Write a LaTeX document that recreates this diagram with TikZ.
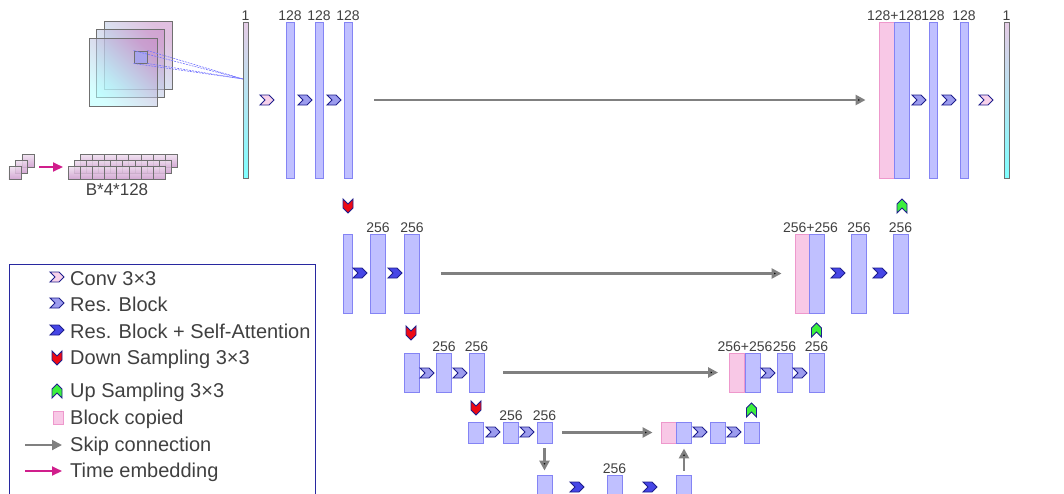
\documentclass[tikz,border=0pt]{standalone}
\usepackage{fontspec}
\setmainfont{Liberation Sans}
\usetikzlibrary{positioning,shapes.symbols,arrows.meta}

\definecolor{barfill}{HTML}{C0C0FF}
\definecolor{barline}{HTML}{8484F4}
\definecolor{copyfill}{HTML}{F8C8E6}
\definecolor{copyline}{HTML}{EE98CC}
\definecolor{navy}{HTML}{1E1E8C}
\definecolor{convfill}{HTML}{F8D2EA}
\definecolor{resfill}{HTML}{9C9CEE}
\definecolor{attfill}{HTML}{4646E6}
\definecolor{dnfill}{HTML}{EE0A14}
\definecolor{upfill}{HTML}{3CF03C}
\definecolor{skipgray}{HTML}{808080}
\definecolor{timemag}{HTML}{D01E8C}
\definecolor{txtgray}{HTML}{404040}
\definecolor{legline}{HTML}{2828A0}
\definecolor{sqgray}{HTML}{707070}
\definecolor{patchfill}{HTML}{A8A4EC}

\tikzset{
  bar/.style={draw=barline, fill=barfill, line width=0.9pt, inner sep=0pt, minimum width=15pt},
  copied/.style={draw=copyline, fill=copyfill, line width=0.9pt, inner sep=0pt, minimum width=15pt},
  slim/.style={minimum width=8pt},
  lvone/.style={minimum height=156pt},
  lvtwo/.style={minimum height=79pt},
  lvthree/.style={minimum height=39pt},
  lvfour/.style={minimum height=21pt},
  lvfive/.style={minimum height=30pt},
  io/.style={draw=sqgray, line width=0.9pt, top color=violet!20, bottom color=cyan!50,
    inner sep=0pt, minimum width=5pt, minimum height=156pt},
  chev/.style={signal, signal to=east, signal from=west, draw=navy, line width=0.9pt,
    inner sep=0pt, minimum width=14pt, minimum height=10pt},
  conv/.style={chev, fill=convfill},
  res/.style={chev, fill=resfill},
  att/.style={chev, fill=attfill},
  dnsample/.style={signal, signal to=south, signal from=north, draw=navy, line width=0.9pt,
    fill=dnfill, inner sep=0pt, minimum width=10pt, minimum height=4pt},
  upsample/.style={signal, signal to=north, signal from=south, draw=navy, line width=0.9pt,
    fill=upfill, inner sep=0pt, minimum width=10pt, minimum height=4pt},
  lbl/.style={font=\fontsize{14}{15}\selectfont, text=txtgray, inner sep=1pt},
  legtxt/.style={font=\fontsize{20}{22}\selectfont, text=txtgray, anchor=west, inner sep=0pt},
  skip/.style={draw=skipgray, line width=2.5pt, -{Triangle[length=10pt,width=10pt]}},
  timearrow/.style={draw=timemag, line width=2pt, -{Triangle[length=10pt,width=9pt]}},
  tile/.style={draw=sqgray, line width=0.8pt, top color=violet!12, bottom color=violet!40,
    fill opacity=0.85, inner sep=0pt, minimum width=12.2pt, minimum height=13pt},
  img/.style={draw=sqgray, line width=1pt, top color=violet!45, bottom color=cyan!30,
    shading angle=-45, fill opacity=0.55, inner sep=0pt, minimum size=68pt},
}

\begin{document}
\begin{tikzpicture}[x=1pt,y=-1pt]
	\useasboundingbox (0,0) rectangle (1064,493);

	% input image and time embedding
	\node[img] (sqc) at (138, 55) {};
	\node[img] (sqb) at (130.5, 63) {};
	\node[img] (sqa) at (123, 72.5) {};
	\node[draw=sqgray, fill=patchfill, line width=0.9pt, inner sep=0pt,
		minimum width=13pt, minimum height=12pt] (patch) at (140.5, 57) {};
	\coordinate (fc) at (243, 79);
	\foreach \c in {north east, south east, north west, south west}
		\draw[blue!55, line width=0.6pt, dash pattern=on 2pt off 1pt] (patch.\c) -- (fc);

	\node[tile] (tc) at (28, 160.5) {};
	\node[tile] (tb) at (21.5, 166.5) {};
	\node[tile] (ta) at (15, 172.5) {};
	\foreach \r/\xo/\yo in {0/80/160.5, 1/74/166.5, 2/68/172.5}
		\foreach \i in {0,...,7}
			\node[tile] (t\r\i) at ({\xo+6.1+\i*12.2}, \yo) {};
	\coordinate (te0) at (39, 167);
	\coordinate (te1) at (63, 167);
	\draw[timearrow] (te0) -- (te1);
	\node[font=\fontsize{17}{18}\selectfont, text=txtgray] (bsize) at (117, 190) {B*4*128};

	% level 1
	\node[io] (in1) at (245.5, 100) {};
	\node[bar, slim, lvone] (e1a) at (290, 100) {};
	\node[bar, slim, lvone] (e1b) at (319, 100) {};
	\node[bar, slim, lvone] (e1c) at (348, 100) {};
	\node[copied, lvone] (c1) at (886.5, 100) {};
	\node[bar, lvone] (u1a) at (901.5, 100) {};
	\node[bar, slim, lvone] (u1b) at (933, 100) {};
	\node[bar, slim, lvone] (u1c) at (964, 100) {};
	\node[io] (out1) at (1006.5, 100) {};

	\node[lbl, above=0pt of in1] {1};
	\node[lbl, above=0pt of e1a] {128};
	\node[lbl, above=0pt of e1b] {128};
	\node[lbl, above=0pt of e1c] {128};
	\node[lbl, above=0pt of c1.north east] {128+128};
	\node[lbl, above=0pt of u1b] {128};
	\node[lbl, above=0pt of u1c] {128};
	\node[lbl, above=0pt of out1] {1};

	\node[conv] (k1a) at (267, 100) {};
	\node[res] (k1b) at (305, 100) {};
	\node[res] (k1c) at (334, 100) {};
	\node[res] (k1d) at (919, 100) {};
	\node[res] (k1e) at (949, 100) {};
	\node[conv] (k1f) at (986, 100) {};

	% level 2
	\node[bar, lvtwo, minimum width=9pt] (e2a) at (347.5, 273.5) {};
	\node[bar, lvtwo] (e2b) at (378, 273.5) {};
	\node[bar, lvtwo] (e2c) at (412, 273.5) {};
	\node[copied, lvtwo] (c2) at (802.5, 273.5) {};
	\node[bar, lvtwo] (u2a) at (817, 273.5) {};
	\node[bar, lvtwo] (u2b) at (859, 273.5) {};
	\node[bar, lvtwo] (u2c) at (900.5, 273.5) {};

	\node[lbl, above=0pt of e2b] {256};
	\node[lbl, above=0pt of e2c] {256};
	\node[lbl, above=0pt of c2.north east] {256+256};
	\node[lbl, above=0pt of u2b] {256};
	\node[lbl, above=0pt of u2c] {256};

	\node[att] (k2a) at (360, 273) {};
	\node[att] (k2b) at (395, 273) {};
	\node[att] (k2c) at (838, 273) {};
	\node[att] (k2d) at (880, 273) {};

	% level 3
	\node[bar, lvthree] (e3a) at (411.5, 372.5) {};
	\node[bar, lvthree] (e3b) at (444, 372.5) {};
	\node[bar, lvthree] (e3c) at (476.5, 372.5) {};
	\node[copied, lvthree] (c3) at (737, 372.5) {};
	\node[bar, lvthree] (u3a) at (752.5, 372.5) {};
	\node[bar, lvthree] (u3b) at (784.5, 372.5) {};
	\node[bar, lvthree] (u3c) at (816.5, 372.5) {};

	\node[lbl, above=0pt of e3b] {256};
	\node[lbl, above=0pt of e3c] {256};
	\node[lbl, above=0pt of c3.north east] {256+256};
	\node[lbl, above=0pt of u3b] {256};
	\node[lbl, above=0pt of u3c] {256};

	\node[res] (k3a) at (427, 373) {};
	\node[res] (k3b) at (460, 373) {};
	\node[res] (k3c) at (768, 373) {};
	\node[res] (k3d) at (800, 373) {};

	% level 4
	\node[bar, lvfour] (e4a) at (476, 432.5) {};
	\node[bar, lvfour] (e4b) at (511, 432.5) {};
	\node[bar, lvfour] (e4c) at (544.5, 432.5) {};
	\node[copied, lvfour] (c4) at (668.5, 432.5) {};
	\node[bar, lvfour] (u4a) at (684, 432.5) {};
	\node[bar, lvfour] (u4b) at (718, 432.5) {};
	\node[bar, lvfour] (u4c) at (751.5, 432.5) {};

	\node[lbl, above=0pt of e4b] {256};
	\node[lbl, above=0pt of e4c] {256};

	\node[res] (k4a) at (493, 432) {};
	\node[res] (k4b) at (527, 432) {};
	\node[res] (k4c) at (700, 432) {};
	\node[res] (k4d) at (734, 432) {};

	% bottom
	\node[bar, lvfive] (m5a) at (544.5, 490) {};
	\node[bar, lvfive] (m5b) at (614.5, 490) {};
	\node[bar, lvfive] (m5c) at (684, 490) {};
	\node[lbl, above=0pt of m5b] {256};
	\node[att] (k5a) at (577, 487) {};
	\node[att] (k5b) at (650, 487) {};

	% sampling
	\node[dnsample] (d1) at (348, 206) {};
	\node[dnsample] (d2) at (411, 333) {};
	\node[dnsample] (d3) at (476, 408) {};
	\node[upsample] (p1) at (902, 206) {};
	\node[upsample] (p2) at (816.5, 330) {};
	\node[upsample] (p3) at (751.5, 410) {};

	% skip connections
	\path[skip] (e1c) edge[shorten <=22pt, shorten >=13pt] (c1);
	\path[skip] (e2c) edge[shorten <=21pt, shorten >=13pt] (c2);
	\path[skip] (e3c) edge[shorten <=19pt, shorten >=11pt] (c3);
	\path[skip] (e4c) edge[shorten <=10pt, shorten >=8pt] (c4);
	\path[skip] (e4c) edge[shorten <=5pt, shorten >=4pt] (m5a);
	\path[skip] (m5c) edge[shorten <=4pt, shorten >=5pt] (u4a);

	% legend
	\draw[legline, line width=0.9pt] (9, 264) rectangle (315, 510);
	\node[conv] (g1) at (57, 277) {};
	\node[res] (g2) at (57, 303) {};
	\node[att] (g3) at (57, 330) {};
	\node[dnsample] (g4) at (57, 358) {};
	\node[upsample] (g5) at (57, 391) {};
	\node[copied, minimum width=10pt, minimum height=13pt] (g6) at (58, 418) {};
	\coordinate (g7a) at (25, 445);
	\coordinate (g7b) at (62, 445);
	\coordinate (g8a) at (25, 471);
	\coordinate (g8b) at (62, 471);
	\draw[skip, line width=2pt] (g7a) -- (g7b);
	\draw[timearrow] (g8a) -- (g8b);

	\node[legtxt] at (70, 278.5) {Conv 3×3};
	\node[legtxt] at (70, 304.5) {Res. Block};
	\node[legtxt] at (70, 331.5) {Res. Block + Self-Attention};
	\node[legtxt] at (70, 359.5) {Down Sampling 3×3};
	\node[legtxt] at (70, 392.5) {Up Sampling 3×3};
	\node[legtxt] at (70, 419.5) {Block copied};
	\node[legtxt] at (70, 446.5) {Skip connection};
	\node[legtxt] at (70, 472.5) {Time embedding};

\end{tikzpicture}
\end{document}
